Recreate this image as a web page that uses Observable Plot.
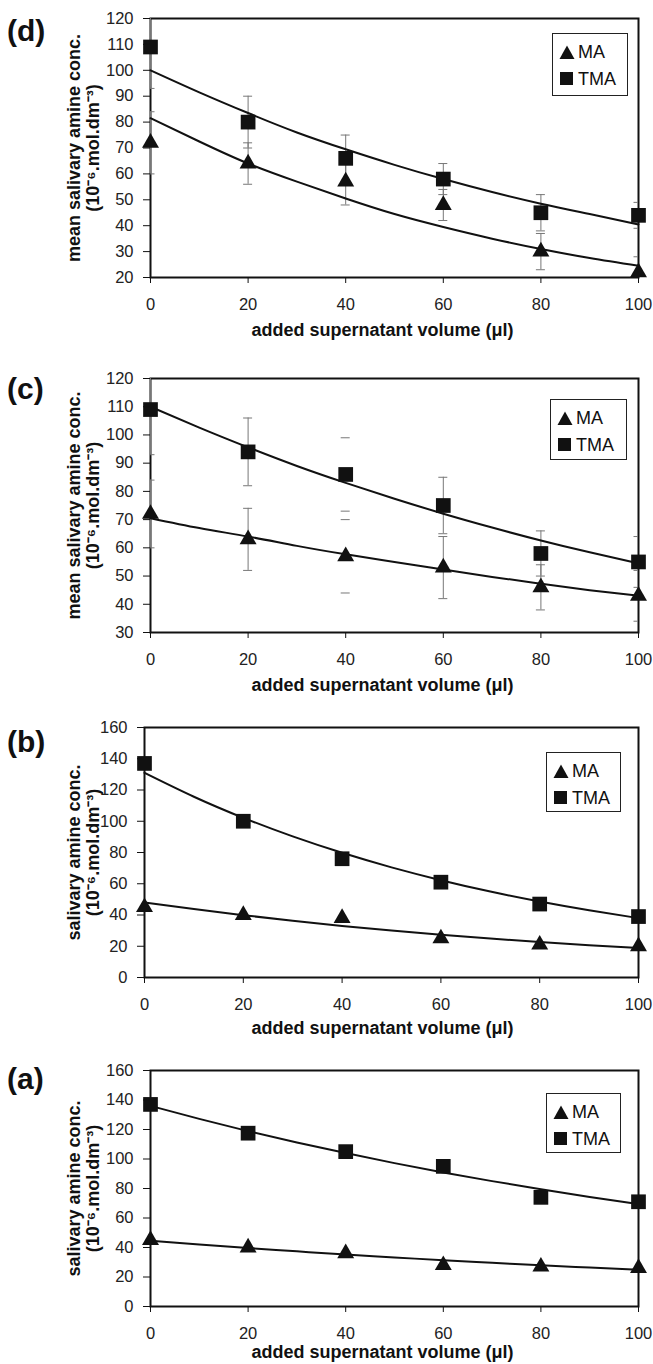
<!DOCTYPE html>
<html><head><meta charset="utf-8">
<script src="https://cdn.jsdelivr.net/npm/d3@7"></script>
<script src="https://cdn.jsdelivr.net/npm/@observablehq/plot@0.6"></script>
<style>
body{margin:0;background:#fff;}
#root{position:relative;width:653px;height:1364px;overflow:hidden;font-family:"Liberation Sans",Arial,Helvetica,sans-serif;color:#111;}
.panel{position:absolute;left:0;width:653px;}
.panel svg{display:block;overflow:visible;}
.plabel{position:absolute;left:7px;font-weight:bold;font-size:30px;line-height:30px;}
.legend{position:absolute;border:1px solid #222;background:#fff;box-sizing:border-box;}
.legend .row{position:absolute;left:0;height:22px;font-size:18px;line-height:22px;white-space:nowrap;}
.legend svg{position:absolute;top:4px;}
.legend span{position:absolute;left:25px;top:0;}
</style>
</head><body>
<div id="root"></div>
<script>
// ---- data ----
const volumes = [0, 20, 40, 60, 80, 100];
const fitVolumes = [0, 10, 20, 30, 40, 50, 60, 70, 80, 90, 100];
const xTicks = [0, 20, 40, 60, 80, 100];
const seriesNames = ["MA", "TMA"];
const xTitle = "added supernatant volume (μl)";
const yTitleMean = "mean salivary amine conc.";
const yTitlePlain = "salivary amine conc.";
const yUnit = "(10⁻⁶.mol.dm⁻³)";

// panel (d)
const dMA = [72, 64, 57, 48, 30, 22];
const dMAerr = [12, 8, 9, 6, 7, 6];
const dTMA = [109, 80, 66, 58, 45, 44];
const dTMAerr = [16, 10, 9, 6, 7, 5];
const dMAfit = [81.5, 72.5, 64, 57, 50.5, 44.5, 39.5, 35, 31, 27.5, 24.5];
const dTMAfit = [100, 91.5, 83.5, 76, 69.5, 63.5, 58, 53, 48.5, 44.5, 40.5];
const dTicks = [20, 30, 40, 50, 60, 70, 80, 90, 100, 110, 120];

// panel (c)
const cMA = [72, 63, 57, 53, 46, 43];
const cMAerr = [12, 11, 13, 11, 8, 9];
const cTMA = [109, 94, 86, 75, 58, 55];
const cTMAerr = [16, 12, 13, 10, 8, 9];
const cMAfit = [70.5, 67, 64, 60.7, 57.7, 55, 52.3, 49.7, 47.3, 45, 43];
const cTMAfit = [110, 102.6, 95.6, 89, 83, 77.4, 72.1, 67.2, 62.6, 58.4, 54.5];
const cTicks = [30, 40, 50, 60, 70, 80, 90, 100, 110, 120];
const cCapsOnlyAt = [40];

// panel (b)
const bMA = [45, 40, 38, 25, 21, 20];
const bTMA = [137, 100, 76, 61, 47, 39];
const bMAfit = [48, 43.8, 39.9, 36.3, 33, 30.1, 27.4, 24.9, 22.7, 20.7, 18.9];
const bTMAfit = [131, 115.7, 102.2, 90.3, 79.8, 70.5, 62.3, 55, 48.6, 43, 38];
const bTicks = [0, 20, 40, 60, 80, 100, 120, 140, 160];

// panel (a)
const aMA = [45, 40, 36, 28, 27, 26];
const aTMA = [137, 117.5, 105, 95, 74, 71];
const aMAfit = [44.5, 42, 39.6, 37.4, 35.2, 33.3, 31.3, 29.6, 27.9, 26.4, 24.9];
const aTMAfit = [136, 127.2, 118.9, 111.2, 104, 97.2, 90.9, 85, 79.5, 74.3, 69.5];
const aTicks = [0, 20, 40, 60, 80, 100, 120, 140, 160];

// ---- layout ----
const panels = [
  {label: "(d)", top: 0, height: 345, mt: 18, mb: 68, ml: 150, labelDy: 13, xtDy: 53,
   yTitle: yTitleMean, ma: dMA, maErr: dMAerr, tma: dTMA, tmaErr: dTMAerr, maFit: dMAfit, tmaFit: dTMAfit,
   ticks: dTicks, capsOnly: [], legend: {left: 552, top: 15, w: 76, h: 63}},
  {label: "(c)", top: 345, height: 355, mt: 33, mb: 68, ml: 150, labelDy: 11, xtDy: 53,
   yTitle: yTitleMean, ma: cMA, maErr: cMAerr, tma: cTMA, tmaErr: cTMAerr, maFit: cMAfit, tmaFit: cTMAfit,
   ticks: cTicks, capsOnly: cCapsOnlyAt, legend: {left: 550, top: 21, w: 77, h: 61}},
  {label: "(b)", top: 700, height: 345, mt: 27, mb: 68, ml: 144, labelDy: 15, xtDy: 51,
   yTitle: yTitlePlain, ma: bMA, maErr: null, tma: bTMA, tmaErr: null, maFit: bMAfit, tmaFit: bTMAfit,
   ticks: bTicks, capsOnly: [], legend: {left: 546, top: 25, w: 75, h: 60}},
  {label: "(a)", top: 1045, height: 319, mt: 25, mb: 58, ml: 150, labelDy: 9, xtDy: 46,
   yTitle: yTitlePlain, ma: aMA, maErr: null, tma: aTMA, tmaErr: null, maFit: aMAfit, tmaFit: aTMAfit,
   ticks: aTicks, capsOnly: [], legend: {left: 546, top: 23, w: 75, h: 60}}
];

const root = document.getElementById("root");
const W = 653, MR = 15;

function rows(name, vals, errs) {
  return vals.map((v, i) => ({series: name, x: volumes[i], y: v,
    lo: errs ? v - errs[i] : null, hi: errs ? v + errs[i] : null}));
}

for (const p of panels) {
  const ma = rows(seriesNames[0], p.ma, p.maErr);
  const tma = rows(seriesNames[1], p.tma, p.tmaErr);
  const errPts = [...ma, ...tma].filter(d => d.lo != null);
  const fits = [
    ...fitVolumes.map((x, i) => ({series: seriesNames[0], x, y: p.maFit[i]})),
    ...fitVolumes.map((x, i) => ({series: seriesNames[1], x, y: p.tmaFit[i]}))
  ];
  const yDomain = [p.ticks[0], p.ticks[p.ticks.length - 1]];
  const frameCenter = (p.ml + W - MR) / 2;

  const chart = Plot.plot({
    width: W, height: p.height,
    marginTop: p.mt, marginBottom: p.mb, marginLeft: p.ml, marginRight: MR,
    style: {fontFamily: '"Liberation Sans", Arial, sans-serif', color: "#111", background: "#fff", overflow: "visible"},
    x: {domain: [0, 100]},
    y: {domain: yDomain},
    marks: [
      Plot.frame({stroke: "#111", strokeWidth: 2}),
      Plot.ruleX(errPts.filter(d => !p.capsOnly.includes(d.x)), {x: "x", y1: "lo", y2: "hi", stroke: "#777", strokeWidth: 1, clip: true}),
      Plot.ruleY(errPts, {y: "lo", x1: "x", x2: "x", insetLeft: -4.5, insetRight: -4.5, stroke: "#777", strokeWidth: 1, clip: true}),
      Plot.ruleY(errPts, {y: "hi", x1: "x", x2: "x", insetLeft: -4.5, insetRight: -4.5, stroke: "#777", strokeWidth: 1, clip: true}),
      Plot.line(fits, {x: "x", y: "y", z: "series", curve: "natural", stroke: "#111", strokeWidth: 2}),
      Plot.dot(ma, {x: "x", y: "y", symbol: "triangle", r: 6.3, fill: "#111", stroke: null}),
      Plot.dot(tma, {x: "x", y: "y", symbol: "square", r: 8.3, fill: "#111", stroke: null}),
      Plot.axisY({ticks: p.ticks, tickSize: 7, tickPadding: 10, fontSize: 16.5, label: null, tickFormat: d => String(d), stroke: "#111", fill: "#222"}),
      Plot.axisX({ticks: xTicks, tickSize: 6, tickPadding: 15, fontSize: 16.5, label: null, tickFormat: d => String(d), stroke: "#111", fill: "#222"}),
      Plot.text([p.yTitle + "\n" + yUnit], {text: d => d, frameAnchor: "left", textAnchor: "middle", lineAnchor: "middle",
        rotate: -90, dx: -(p.ml - 83), fontWeight: "bold", fontSize: 18, lineHeight: 1.05, fill: "#111"}),
      Plot.text([xTitle], {text: d => d, frameAnchor: "bottom", textAnchor: "middle", lineAnchor: "middle",
        dy: p.xtDy, dx: 382 - frameCenter, fontWeight: "bold", fontSize: 18, fill: "#111"})
    ]
  });

  const div = document.createElement("div");
  div.className = "panel";
  div.style.top = p.top + "px";
  div.style.height = p.height + "px";
  div.appendChild(chart);

  const lab = document.createElement("div");
  lab.className = "plabel";
  lab.textContent = p.label;
  lab.style.top = (p.mt + p.labelDy - 15) + "px";
  div.appendChild(lab);

  const lg = document.createElement("div");
  lg.className = "legend";
  lg.style.left = p.legend.left + "px";
  lg.style.top = (p.mt + p.legend.top) + "px";
  lg.style.width = p.legend.w + "px";
  lg.style.height = p.legend.h + "px";
  const shapes = {
    MA: '<svg width="16" height="15" style="left:6px"><path d="M8,0.5L15.5,14H0.5Z" fill="#111"/></svg>',
    TMA: '<svg width="14" height="14" style="left:7px"><rect x="0" y="0" width="13" height="13" fill="#111"/></svg>'
  };
  seriesNames.forEach((name, i) => {
    const r = document.createElement("div");
    r.className = "row";
    r.style.top = (i === 0 ? 7 : 34) + "px";
    r.style.width = "100%";
    r.innerHTML = shapes[name] + "<span>" + name + "</span>";
    lg.appendChild(r);
  });
  div.appendChild(lg);
  root.appendChild(div);
}
</script>
</body></html>
